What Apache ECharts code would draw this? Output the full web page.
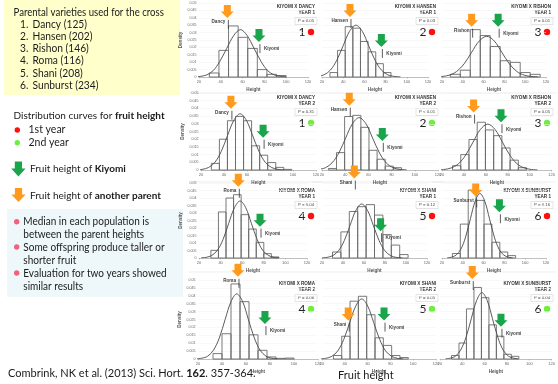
<!DOCTYPE html>
<html>
<head>
<meta charset="utf-8">
<script src="https://cdn.jsdelivr.net/npm/echarts@6/dist/echarts.min.js"></script>
<style>
  html, body { margin: 0; padding: 0; background: #ffffff; }
  #c { width: 558px; height: 384px; }
</style>
</head>
<body>
<div id="c"></div>
<script>
// ---- Kiyomi crossed with six parents, fruit height in two seasons ----
const parentNames = ['Dancy', 'Hansen', 'Rishon', 'Roma', 'Shani', 'Sunburst'];
const familySizes = [125, 202, 146, 116, 208, 234];

// panel order: row by row, three panels per row
const panelParent = [0, 1, 2, 0, 1, 2, 3, 4, 5, 3, 4, 5];
const panelYear = [1, 1, 1, 2, 2, 2, 1, 1, 1, 2, 2, 2];
const pValueText = ['P = 0.05', 'P = 0.03', 'P = 0.01', 'P = 0.31', 'P < 0.01', 'P = 0.05',
                    'P = 0.04', 'P = 0.12', 'P = 0.16', 'P = 0.06', 'P = 0.05', 'P = 0.04'];

// fruit height of the other parent and of Kiyomi (arrow positions on the Height axis)
const parentFruitHeight = [46, 46.4, 48.5, 46, 43.5, 48.8, 56.4, 50.8, 52.4, 53.3, 43, 48.9];
const kiyomiFruitHeight = [75, 76, 74, 74, 72, 73.8, 76.5, 75.8, 75.2, 75.8, 74.4, 74.6];

// histogram bins: first edge and bin width
const binStart = [29.5, 27.5, 28, 29, 25.5, 29.6, 31, 30, 30, 32.5, 30, 30.3];
const binWidth = [8.8, 7.2, 9.6, 7, 7, 7.5, 7, 8, 7.6, 7.5, 7.3, 6.7];

// histogram densities
const densDancyY1 = [0.0027, 0.018, 0.0345, 0.0268, 0.0193, 0.005, 0.0018, 0.001];
const densHansenY1 = [0.003, 0.018, 0.034, 0.033, 0.024, 0.017, 0.009, 0.003];
const densRishonY1 = [0.0018, 0.0046, 0.032, 0.028, 0.0206, 0.011, 0.0099, 0.003, 0.0018];
const densDancyY2 = [0.0043, 0.02, 0.032, 0.0348, 0.032, 0.0157, 0.0096, 0.0048, 0.0017, 0.0004];
const densHansenY2 = [0.001, 0.0113, 0.0347, 0.0355, 0.0277, 0.0128, 0.007, 0.0025, 0.0015];
const densRishonY2 = [0.0028, 0.01, 0.0198, 0.031, 0.026, 0.0223, 0.0143, 0.0064, 0.0015];
const densRomaY1 = [0.0051, 0.0307, 0.040, 0.0422, 0.0289, 0.0193, 0.0104, 0.0029, 0.0007];
const densShaniY1 = [0.004, 0.0174, 0.031, 0.0342, 0.0356, 0.0286, 0.0156, 0.0086, 0.0023];
const densSunburstY1 = [0.003, 0.0226, 0.0453, 0.0384, 0.0226, 0.0105, 0.004, 0.0016];
const densRomaY2 = [0.0034, 0.016, 0.0475, 0.0363, 0.0153, 0.0055, 0.0013, 0.0004, 0.0006];
const densShaniY2 = [0.0022, 0.0144, 0.0366, 0.0397, 0.028, 0.0134, 0.0086, 0.0022, 0.0009];
const densSunburstY2 = [0.0022, 0.0101, 0.0317, 0.0453, 0.0388, 0.0216, 0.0144, 0.003, 0.0017];

// fitted density curves, [height, density]
const curveDancyY1 = [[18, 0.0002], [21, 0.0004], [27, 0.0014], [33, 0.0043], [39, 0.0104], [45.5, 0.0194], [52, 0.0282], [58, 0.032], [64, 0.0282], [70.5, 0.0194], [77, 0.0104], [83, 0.0043], [89, 0.0014], [95.5, 0.0004], [100, 0.0001]];
const curveHansenY1 = [[12, 0.0001], [16, 0.0004], [22, 0.0015], [28, 0.0047], [34, 0.0114], [40, 0.0212], [46, 0.0309], [52, 0.035], [58, 0.0309], [64, 0.0212], [70, 0.0114], [76, 0.0047], [82, 0.0015], [88, 0.0004], [94, 0.0001]];
const curveRishonY1 = [[14, 0.0001], [19.5, 0.0003], [26.8, 0.0012], [34, 0.0037], [41.3, 0.0089], [48.5, 0.0167], [55.8, 0.0243], [63, 0.0275], [70.3, 0.0243], [77.5, 0.0167], [84.8, 0.0089], [92, 0.0037], [99.3, 0.0012], [106.5, 0.0003], [112, 0.0001]];
const curveDancyY2 = [[17, 0.0001], [21, 0.0004], [26.5, 0.0016], [32, 0.0049], [37.5, 0.0119], [43, 0.0222], [48.5, 0.0322], [54, 0.0365], [59.5, 0.0322], [65, 0.0222], [70.5, 0.0119], [76, 0.0049], [81.5, 0.0016], [87, 0.0004], [92, 0.0001]];
const curveHansenY2 = [[12, 0.0001], [17, 0.0004], [23, 0.0015], [28.6, 0.0046], [34.5, 0.011], [40.3, 0.0206], [46.2, 0.03], [52, 0.034], [57.9, 0.03], [63.7, 0.0206], [69.6, 0.011], [75.4, 0.0046], [81.3, 0.0015], [87.1, 0.0004], [93, 0.0001]];
const curveRishonY2 = [[16, 0.0001], [21.5, 0.0003], [28.2, 0.0013], [34.9, 0.004], [41.6, 0.0097], [48.3, 0.0181], [55, 0.0263], [61.7, 0.0298], [68.4, 0.0263], [75.1, 0.0181], [81.8, 0.0097], [88.5, 0.004], [95.2, 0.0013], [101.9, 0.0003], [107, 0.0001]];
const curveRomaY1 = [[22, 0.0001], [26.5, 0.0004], [31.8, 0.0017], [37, 0.0051], [42.3, 0.0124], [47.5, 0.0231], [52.8, 0.0335], [58, 0.038], [63.3, 0.0335], [68.5, 0.0231], [73.8, 0.0124], [79, 0.0051], [84.3, 0.0017], [89.5, 0.0004], [94, 0.0001]];
const curveShaniY1 = [[20, 0.0001], [24.8, 0.0004], [30.3, 0.0016], [35.8, 0.0049], [41.3, 0.0117], [46.8, 0.0219], [52.3, 0.0318], [57.8, 0.036], [63.3, 0.0318], [68.8, 0.0219], [74.3, 0.0117], [79.8, 0.0049], [85.3, 0.0016], [90.8, 0.0004], [96, 0.0001]];
const curveSunburstY1 = [[25, 0.0001], [28.9, 0.0005], [33.5, 0.0019], [38.1, 0.0058], [42.7, 0.014], [47.3, 0.0261], [51.9, 0.0379], [56.5, 0.043], [61.1, 0.0379], [65.7, 0.0261], [70.3, 0.014], [74.9, 0.0058], [79.5, 0.0019], [84.1, 0.0005], [88, 0.0001]];
const curveRomaY2 = [[19, 0.0001], [23.2, 0.0005], [28.1, 0.0018], [32.9, 0.0056], [37.8, 0.0134], [42.6, 0.025], [47.5, 0.0363], [52.3, 0.0412], [57.2, 0.0363], [62, 0.025], [66.9, 0.0134], [71.7, 0.0056], [76.6, 0.0018], [81.4, 0.0005], [86, 0.0001]];
const curveShaniY2 = [[19, 0.0001], [23.3, 0.0004], [28.6, 0.0017], [33.8, 0.0051], [39.1, 0.0124], [44.3, 0.0231], [49.6, 0.0335], [54.8, 0.038], [60.1, 0.0335], [65.3, 0.0231], [70.6, 0.0124], [75.8, 0.0051], [81.1, 0.0017], [86.3, 0.0004], [91, 0.0001]];
const curveSunburstY2 = [[25, 0.0001], [29, 0.0005], [33.8, 0.0018], [38.5, 0.0057], [43.3, 0.0137], [48, 0.0255], [52.8, 0.037], [57.5, 0.042], [62.3, 0.037], [67, 0.0255], [71.8, 0.0137], [76.5, 0.0057], [81.3, 0.0018], [86, 0.0005], [90, 0.0001]];

const panelDensities = [densDancyY1, densHansenY1, densRishonY1, densDancyY2, densHansenY2, densRishonY2,
                        densRomaY1, densShaniY1, densSunburstY1, densRomaY2, densShaniY2, densSunburstY2];
const panelCurves = [curveDancyY1, curveHansenY1, curveRishonY1, curveDancyY2, curveHansenY2, curveRishonY2,
                     curveRomaY1, curveShaniY1, curveSunburstY1, curveRomaY2, curveShaniY2, curveSunburstY2];

// axes
const heightMin = 20, heightMax = 120, heightStep = 20;
const densityMax = 0.05, densityStep = 0.005;

// ---- layout (pixels) ----
const rowTop = [3, 93, 183, 280];
const rowHeight = [74, 77, 75, 79];
const colSpan = [
  [[199, 308], [322, 428], [442, 546]],
  [[201, 316], [322, 438], [442, 553]],
  [[199, 307], [322, 427], [442, 546]],
  [[198, 318], [322, 436], [440, 553]]
];
const textRight = [315, 436, 551];
const textTop = [7, 98, 191, 284];
const separatorY = [93, 182, 272];
// vertical level (density units) at which each arrow tip sits
const parentArrowLevel = [0.0399, 0.0405, 0.034, 0.0398, 0.0418, 0.0373, 0.0475, 0.053, 0.041, 0.052, 0.0243, 0.0506];
const kiyomiArrowLevel = [0.0236, 0.0203, 0.034, 0.0209, 0.0189, 0.031, 0.0209, 0.0179, 0.0305, 0.0221, 0.0243, 0.0204];

const ORANGE = '#FF9A1C';
const GREEN = '#1AA44B';
const RED_DOT = '#FF1010';
const GREEN_DOT = '#70EE40';
const SMALL_FONT = 'Liberation Sans';
const BODY_FONT = 'Lato';

const chart = echarts.init(document.getElementById('c'), null, { renderer: 'canvas', width: 558, height: 384 });

function barRenderer(params, api) {
  const x0 = api.value(0), x1 = api.value(1), d = api.value(2);
  const a = api.coord([x0, d]);
  const b = api.coord([x1, 0]);
  return {
    type: 'rect',
    shape: { x: a[0], y: a[1], width: b[0] - a[0], height: b[1] - a[1] },
    style: { fill: 'rgba(255,255,255,0)', stroke: '#6a6a6a', lineWidth: 0.9 }
  };
}

function arrowRenderer(panel) {
  return function (params, api) {
    const p = api.coord([api.value(0), api.value(1)]);
    const isParent = params.dataIndex === 0;
    const cx = p[0], ty = p[1];
    const fill = isParent ? ORANGE : GREEN;
    const label = isParent ? parentNames[panelParent[panel]] : 'Kiyomi';
    return {
      type: 'group',
      children: [
        {
          type: 'polygon',
          shape: { points: [[cx - 3.5, ty - 13], [cx + 3.5, ty - 13], [cx + 3.5, ty - 6.5], [cx + 6.5, ty - 6.5],
                            [cx, ty], [cx - 6.5, ty - 6.5], [cx - 3.5, ty - 6.5]] },
          style: { fill: fill }
        },
        {
          type: 'line',
          shape: { x1: cx + 1, y1: ty + 2, x2: cx + 1, y2: ty + 11 },
          style: { stroke: '#333', lineWidth: 0.8 }
        },
        {
          type: 'text',
          style: {
            text: label, x: isParent ? cx - 2 : cx + 5, y: isParent ? ty + 4 : ty + 7,
            align: isParent ? 'right' : 'left', verticalAlign: 'middle',
            fontSize: 4.6, fontWeight: 'bold', fontFamily: SMALL_FONT, fill: '#444'
          }
        }
      ]
    };
  };
}

const grids = [], xAxes = [], yAxes = [], series = [], graphics = [];

for (let i = 0; i < 12; i++) {
  const r = Math.floor(i / 3), c = i % 3;
  const span = colSpan[r][c];
  grids.push({ left: span[0], top: rowTop[r], width: span[1] - span[0], height: rowHeight[r] });
  xAxes.push({
    gridIndex: i, type: 'value', min: heightMin, max: heightMax, interval: heightStep,
    axisLine: { lineStyle: { color: '#9a9a9a', width: 0.6 } },
    axisTick: { length: 1.5, lineStyle: { color: '#9a9a9a', width: 0.5 } },
    axisLabel: { fontSize: 4, color: '#666', margin: 2.5, fontFamily: SMALL_FONT },
    splitLine: { show: false },
    name: 'Height', nameLocation: 'middle', nameGap: 10,
    nameTextStyle: { fontSize: 4.6, color: '#555', fontWeight: 'bold', fontFamily: SMALL_FONT }
  });
  yAxes.push({
    gridIndex: i, type: 'value', min: 0, max: densityMax, interval: densityStep,
    axisLine: { show: false }, axisTick: { show: false },
    axisLabel: {
      show: c === 0, fontSize: 3.6, color: '#666', margin: 2.5, fontFamily: SMALL_FONT,
      formatter: v => (v === 0 ? '0' : String(+v.toFixed(3)))
    },
    splitLine: { show: true, lineStyle: { color: '#f1f1f1', width: 0.5 } },
    name: c === 0 ? 'Density' : '', nameLocation: 'middle', nameGap: 13,
    nameTextStyle: { fontSize: 4.6, color: '#555', fontWeight: 'bold', fontFamily: SMALL_FONT }
  });

  const dens = panelDensities[i];
  const bars = dens.map((d, k) => [binStart[i] + k * binWidth[i], binStart[i] + (k + 1) * binWidth[i], d]);
  series.push({
    type: 'custom', xAxisIndex: i, yAxisIndex: i, silent: true,
    renderItem: barRenderer, encode: { x: [0, 1], y: 2 }, data: bars, z: 2
  });
  series.push({
    type: 'line', xAxisIndex: i, yAxisIndex: i, silent: true, smooth: 0.35, showSymbol: false,
    data: panelCurves[i], lineStyle: { color: '#4a4a4a', width: 0.9 }, z: 3
  });
  series.push({
    type: 'custom', xAxisIndex: i, yAxisIndex: i, silent: true, clip: false,
    renderItem: arrowRenderer(i), encode: { x: 0, y: 1 },
    data: [[parentFruitHeight[i], parentArrowLevel[i]], [kiyomiFruitHeight[i], kiyomiArrowLevel[i]]], z: 5
  });

  // panel captions
  const tr = textRight[c], tt = textTop[r];
  const cross = 'KIYOMI X ' + parentNames[panelParent[i]].toUpperCase();
  graphics.push({ type: 'text', x: tr, y: tt, style: { text: cross, align: 'right', verticalAlign: 'middle', fontSize: 4.6, fontWeight: 'bold', fontFamily: SMALL_FONT, fill: '#333' } });
  graphics.push({ type: 'text', x: tr, y: tt + 6, style: { text: 'YEAR ' + panelYear[i], align: 'right', verticalAlign: 'middle', fontSize: 4.6, fontWeight: 'bold', fontFamily: SMALL_FONT, fill: '#333' } });
  graphics.push({ type: 'rect', shape: { x: tr - 20, y: tt + 10.5, width: 22, height: 7 }, style: { fill: '#fff', stroke: '#c9c9c9', lineWidth: 0.5 } });
  graphics.push({ type: 'text', x: tr - 9, y: tt + 14, style: { text: pValueText[i], align: 'center', verticalAlign: 'middle', fontSize: 4.3, fontFamily: SMALL_FONT, fill: '#444' } });
  graphics.push({ type: 'text', x: tr - 9.5, y: tt + 25, style: { text: String(panelParent[i] + 1), align: 'right', verticalAlign: 'middle', fontSize: 12, fontFamily: BODY_FONT, fill: '#222' } });
  graphics.push({ type: 'circle', shape: { cx: tr - 4, cy: tt + 25, r: 3.2 }, style: { fill: panelYear[i] === 1 ? RED_DOT : GREEN_DOT } });
  if (r < 3) {
    graphics.push({ type: 'line', shape: { x1: span[0] - 10, y1: separatorY[r], x2: c === 2 ? 556 : span[1] + 6, y2: separatorY[r] }, style: { stroke: '#e2e2e2', lineWidth: 0.6 } });
  }
}

// ---- left-hand notes ----
function bodyText(x, y, text, size, squeeze) {
  const fs = size || 10;
  return {
    type: 'text', x: x, y: y, scaleX: squeeze || 1,
    style: {
      text: text, fontSize: fs, fontFamily: BODY_FONT, fill: '#1b1b1b', verticalAlign: 'middle',
      rich: { b: { fontSize: fs, fontFamily: BODY_FONT, fontWeight: 'bold', fill: '#1b1b1b' } }
    }
  };
}

graphics.push({ type: 'rect', shape: { x: 4, y: 0, width: 176, height: 95 }, style: { fill: '#FFFFCC' }, z: -1 });
graphics.push(bodyText(13.5, 12.7, 'Parental varieties used for the cross', 11, 0.875));
parentNames.forEach((n, k) => {
  const y = 24.8 + k * 12.05;
  graphics.push(bodyText(20, y, (k + 1) + '.', 11, 0.93));
  graphics.push(bodyText(32.5, y, n + ' (' + familySizes[k] + ')', 11, 0.93));
});

graphics.push(bodyText(13.5, 116, 'Distribution curves for {b|fruit height}', 10));
graphics.push({ type: 'circle', shape: { cx: 17.3, cy: 130, r: 2.7 }, style: { fill: RED_DOT } });
graphics.push(bodyText(28.5, 130, '1st year', 10.5));
graphics.push({ type: 'circle', shape: { cx: 17.3, cy: 142.7, r: 2.7 }, style: { fill: GREEN_DOT } });
graphics.push(bodyText(28.5, 142.7, '2nd year', 10.5));

function legendArrow(cx, top, neck, tip, fill) {
  return {
    type: 'polygon',
    shape: { points: [[cx - 3.6, top], [cx + 3.6, top], [cx + 3.6, neck], [cx + 7.2, neck], [cx, tip], [cx - 7.2, neck], [cx - 3.6, neck]] },
    style: { fill: fill }
  };
}
graphics.push(legendArrow(18.4, 161.5, 168.5, 176.5, GREEN));
graphics.push(bodyText(30, 169, 'Fruit height of {b|Kiyomi}', 10));
graphics.push(legendArrow(18.5, 188, 194.5, 202, ORANGE));
graphics.push(bodyText(30, 195.5, 'Fruit height of {b|another parent}', 10));

graphics.push({ type: 'rect', shape: { x: 7, y: 209, width: 176, height: 88 }, style: { fill: '#EEF8FB' }, z: -1 });
const notes = [
  ['Median in each population is', 'between the parent heights'],
  ['Some offspring produce taller or', 'shorter fruit'],
  ['Evaluation for two years showed', 'similar results']
];
const noteY = [221.7, 247, 273];
notes.forEach((lines, k) => {
  graphics.push({ type: 'circle', shape: { cx: 16.7, cy: noteY[k], r: 2.7 }, style: { fill: '#F2627C' } });
  graphics.push(bodyText(23.3, noteY[k], lines[0], 11, 0.91));
  graphics.push(bodyText(23.3, noteY[k] + 13, lines[1], 11, 0.91));
});

graphics.push(bodyText(8, 373, 'Combrink, NK et al. (2013) Sci. Hort. {b|162}. 357-364.', 11));
graphics.push(bodyText(338, 375.5, 'Fruit height', 11));

chart.setOption({
  animation: false,
  backgroundColor: '#ffffff',
  grid: grids,
  xAxis: xAxes,
  yAxis: yAxes,
  series: series,
  graphic: { elements: graphics }
});
</script>
</body>
</html>
